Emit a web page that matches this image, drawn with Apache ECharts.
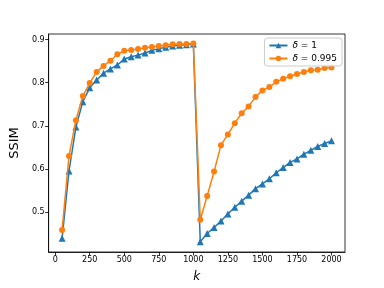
<!DOCTYPE html>
<html><head><meta charset="utf-8">
<script src="https://cdn.jsdelivr.net/npm/echarts@6/dist/echarts.min.js"></script>
<style>html,body{margin:0;padding:0;background:#fff}#c{width:384px;height:288px}</style>
</head><body><div id="c"></div>
<script>
var kValues = [50,100,150,200,250,300,350,400,450,500,550,600,650,700,750,800,850,900,950,1000,
  1050,1100,1150,1200,1250,1300,1350,1400,1450,1500,1550,1600,1650,1700,1750,1800,1850,1900,1950,2000];
var ssimDelta1 = [0.439,0.595,0.697,0.756,0.788,0.806,0.822,0.832,0.841,0.855,0.860,0.864,0.869,0.875,0.879,0.882,0.885,0.887,0.888,0.890,
  0.431,0.450,0.464,0.479,0.495,0.511,0.525,0.539,0.554,0.565,0.577,0.591,0.603,0.615,0.623,0.634,0.643,0.652,0.659,0.665];
var ssimDelta0995 = [0.458,0.630,0.713,0.769,0.799,0.825,0.839,0.851,0.866,0.874,0.876,0.878,0.881,0.883,0.885,0.887,0.889,0.890,0.890,0.891,
  0.482,0.537,0.594,0.655,0.680,0.706,0.729,0.745,0.767,0.782,0.790,0.802,0.809,0.815,0.820,0.825,0.829,0.830,0.834,0.835];
var xTicks = [0,250,500,750,1000,1250,1500,1750,2000];
var yTicks = [0.5,0.6,0.7,0.8,0.9];
var seriesNames = ['δ = 1', 'δ = 0.995'];

function pairs(v){ return kValues.map(function(k,i){return [k,v[i]];}); }
var chart = echarts.init(document.getElementById('c'), null, {renderer:'canvas'});
var axisCommon = {
  axisLine:{show:true,onZero:false,lineStyle:{color:'#000',width:0.8}},
  axisTick:{show:true,inside:false,length:3.5,lineStyle:{color:'#000',width:0.8}},
  splitLine:{show:false},
  axisLabel:{color:'#000',fontSize:8,fontFamily:'DejaVu Sans',margin:4}
};
chart.setOption({
  animation:false,
  backgroundColor:'#fff',
  grid:{left:48,right:39,top:34,bottom:32,show:true,borderColor:'#000',borderWidth:0.8,containLabel:false},
  legend:{
    data:seriesNames, right:42, top:38, orient:'vertical', itemGap:4, itemWidth:18, itemHeight:7,
    padding:[3,5,3,4], borderColor:'#ccc', borderWidth:1, borderRadius:3, backgroundColor:'rgba(255,255,255,0.8)',
    formatter:function(n){ return '{i|δ}' + n.slice(1); },
    textStyle:{fontSize:9,fontFamily:'DejaVu Sans',color:'#000',
      rich:{i:{fontStyle:'italic',fontSize:9,fontFamily:'DejaVu Sans',color:'#000'}}}
  },
  xAxis:Object.assign({}, axisCommon, {
    type:'value', min:-47.5, max:2097.5,
    axisTick:Object.assign({}, axisCommon.axisTick, {customValues:xTicks}),
    axisLabel:Object.assign({}, axisCommon.axisLabel, {customValues:xTicks, formatter:function(v){return String(v);}}),
    name:'k', nameLocation:'middle', nameGap:19,
    nameTextStyle:{fontSize:12,fontStyle:'italic',fontFamily:'DejaVu Sans',color:'#000'}
  }),
  yAxis:Object.assign({}, axisCommon, {
    type:'value', min:0.407, max:0.913,
    axisTick:Object.assign({}, axisCommon.axisTick, {customValues:yTicks}),
    axisLabel:Object.assign({}, axisCommon.axisLabel, {customValues:yTicks, formatter:function(v){return v.toFixed(1);}}),
    name:'SSIM', nameLocation:'middle', nameGap:26, nameRotate:90,
    nameTextStyle:{fontSize:13,fontFamily:'DejaVu Sans',color:'#000'}
  }),
  series:[
    {name:seriesNames[0], type:'line', data:pairs(ssimDelta1), symbol:'triangle', symbolSize:7,
     color:'#1f77b4', lineStyle:{width:1.5,color:'#1f77b4'}, itemStyle:{color:'#1f77b4'}, z:2},
    {name:seriesNames[1], type:'line', data:pairs(ssimDelta0995), symbol:'circle', symbolSize:6,
     color:'#ff7f0e', lineStyle:{width:1.5,color:'#ff7f0e'}, itemStyle:{color:'#ff7f0e'}, z:3}
  ]
});
</script></body></html>
